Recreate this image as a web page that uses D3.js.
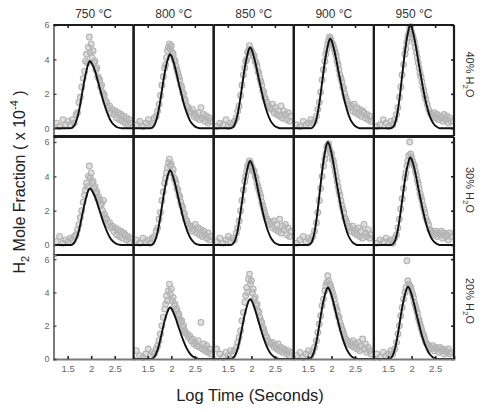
<!DOCTYPE html>
<html>
<head>
<meta charset="utf-8">
<script src="https://cdn.jsdelivr.net/npm/d3@7"></script>
<style>
  body { margin: 0; background: #fff; }
  text { font-family: "Liberation Sans", Arial, sans-serif; }
</style>
</head>
<body>
<svg id="chart" width="481" height="411"></svg>
<script>
// Column (temperature) and row (steam content) labels
const temperatures = ["750 °C", "800 °C", "850 °C", "900 °C", "950 °C"];
const waterLevels = ["40%", "30%", "20%"];
const xTicks = [1.5, 2, 2.5];
const yTicks = [0, 2, 4, 6];

// Log sampling times of the measured H2 points (shared by all runs)
const sampleLogTime = [1.26,1.33,1.40,1.46,1.51,1.56,1.60,1.64,1.68,1.71,1.74,1.77,1.80,1.83,1.86,1.88,1.90,1.92,1.94,1.96,1.98,2.00,2.02,2.04,2.06,2.08,2.10,2.12,2.14,2.16,2.18,2.20,2.22,2.24,2.26,2.28,2.30,2.33,2.36,2.39,2.42,2.45,2.48,2.51,2.54,2.57,2.60,2.63,2.66,2.69,2.72,2.75,2.78,2.81,2.84];

// Log times at which the fitted curves are tabulated
const fitLogTime = [1.2,1.5,1.55,1.6,1.65,1.7,1.75,1.8,1.85,1.9,1.925,1.95,1.975,2.0,2.05,2.1,2.15,2.2,2.25,2.3,2.35,2.4,2.45,2.5,2.55,2.6,2.65,2.9];

// Measured H2 mole fraction (x 1e-4), one array per temperature
const measured40 = [
  [0.3,0.1,0.5,0.2,0.4,0.15,0.5,0.3,0.8,0.9,1.5,1.8,2.4,2.9,3.3,3.9,4.3,3.8,4.7,5.3,4.4,4.9,4.1,4.5,3.8,3.9,3.4,3.5,3.0,2.9,2.8,2.4,2.5,2.1,2.0,1.9,1.6,1.5,1.2,1.3,0.9,1.1,0.8,1.0,0.6,0.9,0.5,0.8,0.4,0.7,0.3,0.6,0.2,0.5,0.3],
  [0.2,0.4,0.1,0.3,0.5,0.2,0.3,0.6,0.7,1.0,1.4,1.9,2.5,3.0,3.5,3.7,4.1,4.5,4.7,4.9,4.6,4.8,4.4,4.3,4.0,3.9,3.6,3.4,3.2,3.0,2.8,2.5,2.4,2.1,2.0,1.7,1.6,1.3,1.2,1.0,0.9,1.1,0.7,0.8,0.6,0.9,0.5,1.2,0.6,0.8,0.4,0.7,0.3,0.6,0.4],
  [0.1,0.3,0.2,0.5,0.1,0.3,0.2,0.4,0.6,1.0,1.3,1.9,2.5,3.1,3.5,3.9,4.0,4.4,4.5,4.8,4.6,4.5,4.4,4.2,4.2,3.9,3.8,3.6,3.3,3.2,2.9,2.7,2.5,2.2,2.1,1.8,1.7,1.5,1.3,1.2,1.1,1.4,0.9,1.2,0.8,1.0,0.7,1.3,0.6,1.0,0.8,0.5,0.9,0.4,0.7],
  [0.2,0.1,0.4,0.2,0.3,0.5,0.3,0.4,0.7,1.1,1.5,2.1,2.8,3.4,3.9,4.3,4.6,4.9,5.1,5.3,5.2,5.0,4.9,4.8,4.6,4.4,4.2,3.9,3.7,3.4,3.1,2.9,2.7,2.4,2.3,2.0,1.8,1.6,1.4,1.2,1.3,1.0,1.4,0.9,1.2,0.8,1.1,0.7,1.0,0.9,0.6,0.8,0.5,0.7,0.4],
  [0.1,0.2,0.5,0.3,0.1,0.4,0.2,0.5,0.8,1.2,1.8,2.4,3.1,3.7,4.3,4.6,5.0,5.3,5.5,5.8,5.9,5.6,5.4,5.2,5.0,4.7,4.4,4.1,3.8,3.5,3.2,3.0,2.7,2.4,2.2,1.9,1.7,1.4,1.1,0.9,0.8,0.7,0.9,0.6,0.8,0.5,0.7,0.6,0.4,0.8,0.5,0.7,0.3,0.6,0.4]
];
const measured30 = [
  [0.2,0.5,0.1,0.3,0.2,0.4,0.3,0.5,0.6,0.9,1.2,1.6,2.0,2.5,2.9,3.2,3.6,3.4,4.0,4.6,3.9,4.2,3.6,3.7,3.3,3.4,3.0,3.1,2.7,2.8,2.6,2.3,2.4,2.0,2.6,1.8,1.6,1.5,1.2,1.3,1.0,1.1,0.8,1.0,0.6,0.9,0.5,0.8,0.4,0.7,0.6,0.3,0.5,0.2,0.4],
  [0.3,0.1,0.4,0.2,0.3,0.1,0.4,0.5,0.8,1.0,1.5,1.9,2.6,3.1,3.6,3.9,4.2,4.5,4.8,5.0,4.6,4.7,4.2,4.4,3.9,3.8,3.6,3.3,3.2,2.9,2.8,2.5,2.3,2.2,1.9,1.8,1.5,1.4,1.2,1.0,1.1,0.8,0.9,1.2,0.7,1.0,0.6,0.9,0.5,0.8,0.6,0.4,0.7,0.3,0.5],
  [0.2,0.4,0.1,0.3,0.5,0.2,0.4,0.3,0.7,1.0,1.4,2.0,2.6,3.2,3.7,4.0,4.3,4.6,4.7,4.9,4.8,4.6,4.5,4.3,4.3,4.0,3.9,3.6,3.4,3.2,3.0,2.8,2.5,2.3,2.1,1.9,1.7,1.5,1.4,1.2,1.3,1.0,1.4,0.9,1.2,0.8,1.5,0.7,1.1,0.9,1.2,0.6,1.0,0.5,0.8],
  [0.1,0.3,0.5,0.2,0.4,0.3,0.5,0.8,1.3,1.9,2.6,3.3,4.0,4.6,5.0,5.3,5.7,5.8,5.9,5.6,5.4,5.3,5.0,4.9,4.6,4.3,4.0,3.7,3.4,3.1,2.9,2.6,2.3,2.1,1.9,1.6,1.5,1.3,1.1,1.0,0.8,1.1,0.7,0.9,0.6,1.0,0.5,0.8,0.4,1.2,0.7,0.5,0.9,0.4,0.6],
  [0.1,0.3,0.2,0.4,0.2,0.3,0.1,0.4,0.6,1.0,1.5,2.1,2.7,3.3,3.9,4.2,4.6,4.9,5.2,6.0,5.3,5.1,4.9,4.7,4.6,4.3,4.1,3.8,3.6,3.3,3.0,2.8,2.6,2.3,2.1,1.9,1.6,1.4,1.2,0.9,0.8,0.7,0.6,0.8,0.5,0.7,0.6,0.8,0.4,0.7,0.5,0.6,0.3,0.7,0.5]
];
const measured20 = [
  null,
  [0.5,0.2,0.1,0.3,0.6,0.2,0.4,0.3,0.6,0.8,1.1,1.5,2.0,2.5,3.0,3.3,3.8,3.5,4.1,4.5,3.9,4.2,3.5,3.7,3.2,3.3,2.9,3.0,2.6,2.7,2.4,2.2,2.3,1.9,2.0,1.7,1.6,1.5,1.3,1.4,1.1,1.2,0.9,1.0,0.8,1.1,0.7,2.2,0.6,0.9,0.5,0.8,0.4,0.6,0.3],
  [0.6,0.3,0.1,0.4,0.2,0.5,0.3,0.5,0.7,1.0,1.3,1.7,2.3,2.8,3.4,3.8,4.3,4.0,4.8,5.1,4.5,4.7,4.0,4.2,3.6,3.7,3.2,3.3,2.9,2.8,2.5,2.3,2.2,1.9,1.8,1.6,1.4,1.3,1.1,1.0,0.9,1.0,0.7,0.8,0.6,0.9,0.5,0.7,0.4,0.6,0.5,0.3,0.5,0.2,0.4],
  [0.2,0.4,0.1,0.3,0.5,0.2,0.4,0.7,1.1,1.6,2.1,2.6,3.2,3.6,4.1,4.4,4.6,5.0,4.7,4.5,4.4,4.2,4.0,3.8,3.6,3.3,3.1,2.9,2.6,2.5,2.2,2.0,1.8,1.7,1.5,1.3,1.2,1.1,0.9,1.0,0.8,1.1,0.7,0.9,0.6,1.0,0.5,0.8,1.2,0.6,0.9,0.4,0.7,0.5,0.3],
  [0.3,0.1,0.4,0.2,0.3,0.5,0.3,0.6,1.0,1.5,2.0,2.6,3.1,3.6,4.0,4.3,5.9,4.7,4.5,4.4,4.3,4.1,3.9,3.7,3.4,3.2,3.0,2.8,2.5,2.3,2.1,1.9,1.7,1.5,1.4,1.2,1.0,0.9,0.8,0.7,0.6,0.8,0.5,0.7,0.6,0.4,0.7,0.5,0.6,0.3,0.5,0.4,0.6,0.3,0.4]
];

// Fitted H2 mole fraction (x 1e-4) at fitLogTime
const fit40 = [
  [0,0,0,0.04,0.2,0.55,1.13,1.91,2.69,3.35,3.63,3.82,3.9,3.82,3.55,3.16,2.65,2.15,1.64,1.21,0.82,0.51,0.29,0.16,0.06,0.02,0,0],
  [0,0,0,0.04,0.22,0.65,1.33,2.19,3.05,3.74,4.0,4.21,4.3,4.21,3.83,3.31,2.71,2.15,1.59,1.12,0.73,0.43,0.24,0.11,0.04,0,0,0],
  [0,0,0,0.05,0.24,0.71,1.46,2.4,3.34,4.09,4.37,4.61,4.7,4.61,4.18,3.62,2.96,2.35,1.74,1.22,0.8,0.47,0.26,0.12,0.05,0,0,0],
  [0,0,0,0.05,0.26,0.78,1.61,2.65,3.69,4.52,4.84,5.1,5.2,5.1,4.63,4.0,3.28,2.6,1.92,1.35,0.88,0.52,0.29,0.13,0.05,0,0,0],
  [0,0,0,0.06,0.3,0.9,1.86,3.06,4.26,5.22,5.58,5.88,6.0,5.88,5.34,4.62,3.78,3.0,2.22,1.56,1.02,0.6,0.33,0.15,0.06,0,0,0]
];
const fit30 = [
  [0,0,0,0.03,0.17,0.46,0.96,1.62,2.28,2.84,3.07,3.23,3.3,3.23,3.0,2.67,2.24,1.82,1.39,1.02,0.69,0.43,0.25,0.13,0.05,0.02,0,0],
  [0,0,0,0.04,0.22,0.65,1.34,2.22,3.09,3.78,4.05,4.26,4.35,4.26,3.87,3.35,2.74,2.18,1.61,1.13,0.74,0.44,0.24,0.11,0.04,0,0,0],
  [0,0,0,0.05,0.25,0.74,1.52,2.5,3.48,4.26,4.56,4.8,4.9,4.8,4.36,3.77,3.09,2.45,1.81,1.27,0.83,0.49,0.27,0.12,0.05,0,0,0],
  [0,0,0.06,0.3,0.9,1.86,3.06,4.26,5.22,5.88,6.0,5.88,5.64,5.34,4.62,3.78,3.0,2.22,1.56,1.02,0.6,0.33,0.15,0.06,0,0,0,0],
  [0,0,0,0.05,0.26,0.77,1.58,2.6,3.62,4.44,4.74,5.0,5.1,5.0,4.54,3.93,3.21,2.55,1.89,1.33,0.87,0.51,0.28,0.13,0.05,0,0,0]
];
const fit20 = [
  null,
  [0,0,0,0.03,0.16,0.47,0.96,1.58,2.2,2.7,2.88,3.04,3.1,3.04,2.76,2.39,1.95,1.55,1.15,0.81,0.53,0.31,0.17,0.08,0.03,0,0,0],
  [0,0,0,0.04,0.18,0.54,1.12,1.84,2.56,3.13,3.35,3.53,3.6,3.53,3.2,2.77,2.27,1.8,1.33,0.94,0.61,0.36,0.2,0.09,0.04,0,0,0],
  [0,0,0.04,0.22,0.65,1.33,2.19,3.05,3.74,4.21,4.3,4.21,4.04,3.83,3.31,2.71,2.15,1.59,1.12,0.73,0.43,0.24,0.11,0.04,0,0,0,0],
  [0,0,0.04,0.22,0.65,1.35,2.22,3.09,3.78,4.26,4.35,4.26,4.09,3.87,3.35,2.74,2.18,1.61,1.13,0.74,0.44,0.24,0.11,0.04,0,0,0,0]
];

const measuredRows = [measured40, measured30, measured20];
const fitRows = [fit40, fit30, fit20];

// ---- layout ----
const svg = d3.select("#chart");
const col = d3.scaleBand().domain(temperatures).range([53.5, 454]).padding(0);
const rowLayout = [
  { top: 25,  bottom: 136, lo: -0.45, hi: 6.0 },
  { top: 137, bottom: 255, lo: -0.58, hi: 6.29 },
  { top: 255, bottom: 359, lo: 0,     hi: 6.25 }
];
const xDomain = [1.2, 2.9];
const gray = "#7a7a7a";

waterLevels.forEach((lvl, r) => {
  const L = rowLayout[r];
  const y = d3.scaleLinear().domain([L.lo, L.hi]).range([L.bottom, L.top]);

  temperatures.forEach((t, c) => {
    const x0 = col(t), x1 = x0 + col.bandwidth();
    const x = d3.scaleLinear().domain(xDomain).range([x0, x1]);
    const g = svg.append("g");
    const meas = measuredRows[r][c];
    const fit = fitRows[r][c];

    if (meas) {
      g.append("g").selectAll("circle")
        .data(d3.zip(sampleLogTime, meas))
        .join("circle")
        .attr("cx", d => x(d[0]))
        .attr("cy", d => y(d[1]))
        .attr("r", 2.9)
        .attr("fill", "rgba(185,185,185,0.45)")
        .attr("stroke", "#b3b3b3")
        .attr("stroke-width", 1.1);
    }
    if (fit) {
      g.append("path")
        .datum(d3.zip(fitLogTime, fit))
        .attr("fill", "none")
        .attr("stroke", "#111")
        .attr("stroke-width", 1.9)
        .attr("d", d3.line().x(d => x(d[0])).y(d => y(d[1])).curve(d3.curveMonotoneX));
    }

    // inward ticks on outer edges
    if (r === 0) {
      g.append("g").attr("transform", `translate(0,${L.top})`)
        .call(d3.axisTop(x).tickValues(xTicks).tickSize(-3).tickFormat(""))
        .call(a => a.select(".domain").remove())
        .selectAll("line").attr("stroke", "#222").attr("stroke-width", 1.6);
    }
    if (c === temperatures.length - 1) {
      g.append("g").attr("transform", `translate(${x1},0)`)
        .call(d3.axisRight(y).tickValues(yTicks).tickSize(-3).tickFormat(""))
        .call(a => a.select(".domain").remove())
        .selectAll("line").attr("stroke", "#222").attr("stroke-width", 1.6);
    }
    if (r === 2) {
      const ax = g.append("g").attr("transform", `translate(0,${L.bottom})`)
        .call(d3.axisBottom(x).tickValues(xTicks).tickSize(-3).tickPadding(6)
          .tickFormat(d3.format("~g")));
      ax.select(".domain").attr("stroke", gray).attr("stroke-width", 2);
      ax.selectAll("line").attr("stroke", "#222").attr("stroke-width", 1.6);
      ax.selectAll("text").attr("fill", "#666").attr("font-size", 9.5);
    }
    if (c === 0) {
      const ay = g.append("g").attr("transform", `translate(${x0},0)`)
        .call(d3.axisLeft(y).tickValues(yTicks).tickSize(-3).tickPadding(4)
          .tickFormat(d3.format("d")));
      ay.select(".domain").attr("stroke", gray).attr("stroke-width", 2);
      ay.selectAll("line").attr("stroke", "#444").attr("stroke-width", 1.3);
      ay.selectAll("text").attr("fill", "#666").attr("font-size", 9);
    }

    // panel frame (the empty 750 °C / 20% cell keeps only its axes)
    if (fit) {
      const frame = g.append("g").attr("fill", "none").attr("stroke", "#1c1c1c").attr("stroke-width", 2.2);
      frame.append("line").attr("x1", x0).attr("x2", x1).attr("y1", L.top).attr("y2", L.top);
      frame.append("line").attr("x1", x1).attr("x2", x1).attr("y1", L.top).attr("y2", L.bottom);
      if (c > 0) frame.append("line").attr("x1", x0).attr("x2", x0).attr("y1", L.top).attr("y2", L.bottom);
      if (r < 2) frame.append("line").attr("x1", x0).attr("x2", x1).attr("y1", L.bottom).attr("y2", L.bottom);
    }
  });

  // steam content label on the right
  const rl = svg.append("text")
    .attr("transform", `translate(466,${(L.top + L.bottom) / 2 - 6}) rotate(90)`)
    .attr("text-anchor", "middle")
    .attr("font-size", 11)
    .attr("fill", "#333");
  rl.append("tspan").text(lvl + " H");
  rl.append("tspan").attr("font-size", 8).attr("dy", 3).text("2");
  rl.append("tspan").attr("dy", -3).text("O");
});

// temperature titles
svg.append("g").selectAll("text")
  .data(temperatures)
  .join("text")
  .attr("x", d => col(d) + col.bandwidth() / 2)
  .attr("y", 18)
  .attr("text-anchor", "middle")
  .attr("font-size", 12)
  .attr("fill", "#333")
  .text(d => d);

// axis titles
svg.append("text")
  .attr("x", 250).attr("y", 401)
  .attr("text-anchor", "middle")
  .attr("font-size", 16.5)
  .attr("fill", "#222")
  .text("Log Time (Seconds)");

const yl = svg.append("text")
  .attr("transform", "translate(25,182) rotate(-90)")
  .attr("text-anchor", "middle")
  .attr("font-size", 16)
  .attr("fill", "#222");
yl.append("tspan").text("H");
yl.append("tspan").attr("font-size", 11).attr("dy", 4).text("2");
yl.append("tspan").attr("dy", -4).text(" Mole Fraction ( x 10");
yl.append("tspan").attr("font-size", 11).attr("dy", -7).text("-4");
yl.append("tspan").attr("dy", 7).text(" )");
</script>
</body>
</html>
